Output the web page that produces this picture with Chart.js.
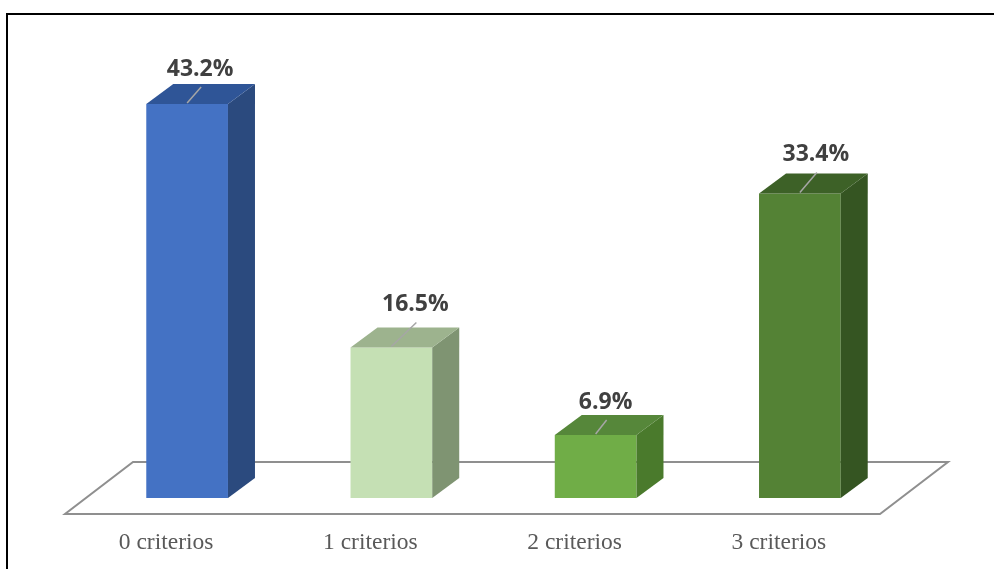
<!DOCTYPE html>
<html lang="es">
<head>
  <meta charset="UTF-8" />
  <title>Criterios</title>
  <script src="https://cdn.jsdelivr.net/npm/chart.js"></script>
  <style>
    html, body { margin: 0; padding: 0; background: #fff; }
    .chart-box { position: relative; width: 995px; height: 569px; }
  </style>
</head>
<body>
<div class="chart-box"><canvas id="chart"></canvas></div>

<script>
  // data
  const categories = ['0 criterios', '1 criterios', '2 criterios', '3 criterios'];
  const percentages = [43.2, 16.5, 6.9, 33.4];

  // colours per bar: front, right side, top
  const frontColors = ['#4472c4', '#c5e0b4', '#70ad47', '#548235'];
  const sideColors  = ['#2b4a7e', '#7f9472', '#4a7a2c', '#355522'];
  const topColors   = ['#2f5597', '#9db38e', '#56873a', '#3d6127'];

  // where the value labels sit, relative to the top-front centre of each bar
  const labelNudge = [[13, -35], [24, -43], [10, -33], [16, -39]];
  const depth = { dx: 27, dy: -20 };

  function poly(ctx, pts, fill) {
    ctx.beginPath();
    ctx.moveTo(pts[0][0], pts[0][1]);
    for (let k = 1; k < pts.length; k++) ctx.lineTo(pts[k][0], pts[k][1]);
    ctx.closePath();
    ctx.fillStyle = fill;
    ctx.fill();
  }

  const bar3d = {
    id: 'bar3d',
    beforeDatasetsDraw(chart) {
      const ctx = chart.ctx;
      const a = chart.chartArea;
      const base = chart.scales.y.getPixelForValue(0);
      // floor
      ctx.save();
      ctx.beginPath();
      ctx.moveTo(a.left - 20, base + 16);
      ctx.lineTo(a.right - 22, base + 16);
      ctx.lineTo(a.right + 46, base - 36);
      ctx.lineTo(a.left + 48, base - 36);
      ctx.closePath();
      ctx.fillStyle = '#fff';
      ctx.fill();
      ctx.strokeStyle = '#8f8f8f';
      ctx.lineWidth = 2;
      ctx.stroke();
      ctx.restore();
    },
    afterDatasetsDraw(chart) {
      const ctx = chart.ctx;
      const meta = chart.getDatasetMeta(0);
      ctx.save();
      meta.data.forEach((bar, i) => {
        const { x, y, width, base } = bar.getProps(['x', 'y', 'width', 'base'], true);
        const l = x - width / 2, r = x + width / 2;
        // right side
        poly(ctx, [[r, y], [r + depth.dx, y + depth.dy], [r + depth.dx, base + depth.dy], [r, base]], sideColors[i]);
        // top
        poly(ctx, [[l, y], [r, y], [r + depth.dx, y + depth.dy], [l + depth.dx, y + depth.dy]], topColors[i]);

        // label + leader line
        const lx = x + labelNudge[i][0], ly = y + labelNudge[i][1];
        ctx.strokeStyle = '#a6a6a6';
        ctx.lineWidth = 1.5;
        ctx.beginPath();
        ctx.moveTo(x, y - 1);
        ctx.lineTo(lx + 1, ly + 18);
        ctx.stroke();

        ctx.fillStyle = '#404040';
        ctx.font = 'bold 23px "Open Sans"';
        ctx.textAlign = 'center';
        ctx.textBaseline = 'middle';
        ctx.fillText(percentages[i].toFixed(1) + '%', lx, ly);
      });

      // category labels, in front of the floor
      const xs = chart.scales.x;
      ctx.fillStyle = '#595959';
      ctx.font = '23.5px "Liberation Serif"';
      ctx.textAlign = 'center';
      ctx.textBaseline = 'middle';
      categories.forEach((c, i) => {
        ctx.fillText(c, xs.getPixelForValue(i) - 21, 543);
      });
      ctx.restore();
    },
    afterDraw(chart) {
      // frame (top and left edges visible)
      const ctx = chart.ctx;
      ctx.save();
      ctx.fillStyle = '#000';
      ctx.fillRect(6, 13, 988, 2);
      ctx.fillRect(6, 13, 2, 556);
      ctx.restore();
    }
  };

  new Chart(document.getElementById('chart').getContext('2d'), {
    type: 'bar',
    data: {
      labels: categories,
      datasets: [{
        data: percentages,
        backgroundColor: frontColors,
        borderWidth: 0,
        barPercentage: 0.4,
        categoryPercentage: 1
      }]
    },
    options: {
      responsive: true,
      maintainAspectRatio: false,
      animation: false,
      layout: { padding: { left: 85, right: 93, top: 42, bottom: 71 } },
      plugins: { legend: { display: false }, tooltip: { enabled: false } },
      scales: {
        x: { display: false },
        y: { display: false, min: 0, max: 50 }
      }
    },
    plugins: [bar3d]
  });
</script>
</body>
</html>
